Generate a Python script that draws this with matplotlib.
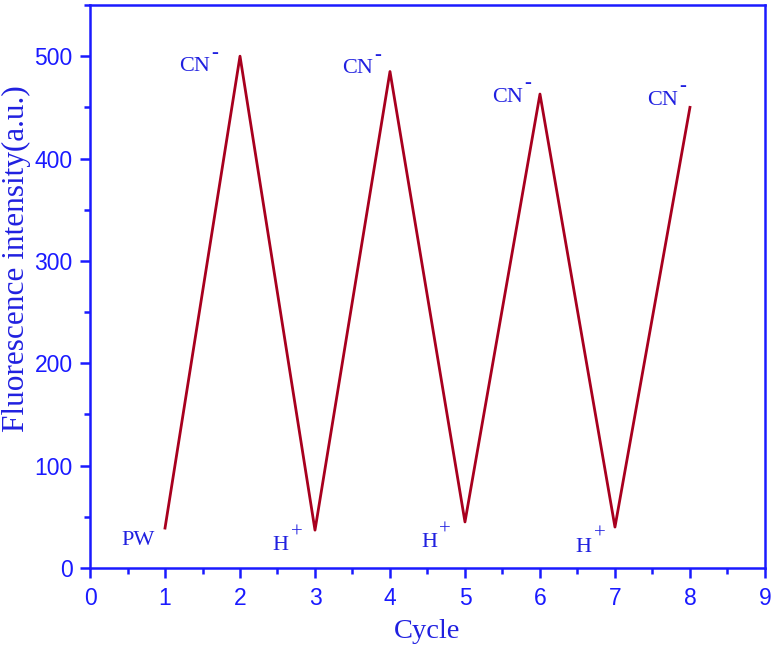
import matplotlib
matplotlib.use("Agg")
import matplotlib.pyplot as plt
from matplotlib.ticker import MultipleLocator

cycles = [1, 2, 3, 4, 5, 6, 7, 8]
intensity = [39, 500, 37, 485, 45, 463, 40, 450]
label_base = ["PW", "CN", "H", "CN", "H", "CN", "H", "CN"]
label_sup = ["", "-", "+", "-", "+", "-", "+", "-"]
label_x = [0.867, 1.60, 2.65, 3.77, 4.63, 5.77, 6.69, 7.84]
label_y = [27, 490, 22, 488, 25, 460, 20.5, 457]

plt.rcParams['font.family'] = ['Liberation Sans', 'DejaVu Sans']
blue = '#1a1aff'
txtblue = '#2020e0'
serif = ['Liberation Serif', 'DejaVu Serif']

fig = plt.figure(figsize=(7.74, 6.49), dpi=100)
ax = fig.add_axes([0.1163, 0.1248, 0.872, 0.8675])
ax.plot(cycles, intensity, color='#a8001e', lw=2.0)

for base, sup, xx, yy in zip(label_base, label_sup, label_x, label_y):
    ax.text(xx, yy, base, ha='right', va='center', color=txtblue,
            fontsize=16, family=serif)
    if sup == "-":
        ax.annotate(sup, xy=(xx, yy), xytext=(0.8, 10), textcoords='offset points',
                    ha='left', va='center', color=txtblue, fontsize=15,
                    fontweight='bold', family=serif)
    elif sup == "+":
        ax.annotate(sup, xy=(xx, yy), xytext=(1.5, 9), textcoords='offset points',
                    ha='left', va='center', color=txtblue, fontsize=15,
                    family=serif)

ax.set_xlim(0, 9)
ax.set_ylim(0, 550)
ax.xaxis.set_major_locator(MultipleLocator(1))
ax.xaxis.set_minor_locator(MultipleLocator(0.5))
ax.yaxis.set_major_locator(MultipleLocator(100))
ax.yaxis.set_minor_locator(MultipleLocator(50))

for sp in ax.spines.values():
    sp.set_color(blue)
    sp.set_linewidth(1.8)
ax.tick_params(which='both', direction='out', colors=blue, width=1.8,
               labelsize=16.5, top=False, right=False)
ax.tick_params(which='major', length=7)
ax.tick_params(which='minor', length=4)
ax.tick_params(axis='x', which='major', pad=7)
ax.tick_params(axis='y', which='major', pad=5.5)

ax.set_xlabel('Cycle', color=txtblue, fontsize=20.5, family=serif, labelpad=6)
ax.set_ylabel('Fluorescence intensity(a.u.)', color=txtblue, fontsize=22.5,
              family=serif)
ax.yaxis.set_label_coords(-0.087, 0.549)

fig.savefig('out.png', dpi=100)
